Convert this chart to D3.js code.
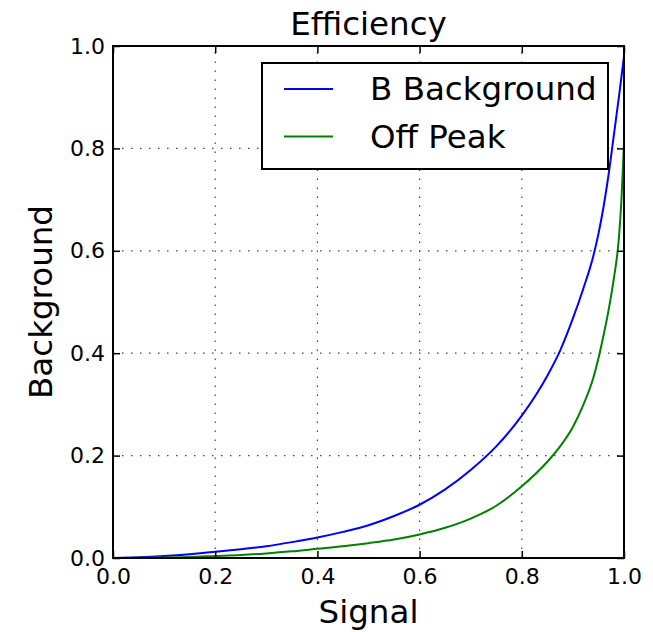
<!DOCTYPE html>
<html>
<head>
<meta charset="utf-8">
<script src="https://cdn.jsdelivr.net/npm/d3@7"></script>
<style>
  body { margin: 0; background: #fff; }
  text { font-family: "DejaVu Sans", sans-serif; fill: #000; }
</style>
</head>
<body>
<svg id="chart" width="653" height="632"></svg>
<script>
let width = 653;
let height = 632;

// signal efficiency grid
let signal = [0, 0.05, 0.1, 0.15, 0.2, 0.25, 0.3, 0.35, 0.4, 0.45, 0.5, 0.55, 0.6, 0.65,
  0.7, 0.75, 0.8, 0.85, 0.875, 0.9, 0.92, 0.94, 0.95, 0.96, 0.97, 0.98, 0.99, 0.995, 1];
// background efficiency, B background sample
let bBackground = [0, 0.0015, 0.004, 0.0075, 0.012, 0.017, 0.023, 0.031, 0.040, 0.051,
  0.064, 0.082, 0.104, 0.134, 0.172, 0.218, 0.278, 0.356, 0.405, 0.468, 0.525, 0.590,
  0.633, 0.686, 0.75, 0.825, 0.90, 0.94, 0.98];
// background efficiency, off peak sample
let offPeak = [0, 0.0003, 0.001, 0.002, 0.004, 0.006, 0.009, 0.013, 0.018, 0.023,
  0.029, 0.036, 0.046, 0.059, 0.077, 0.102, 0.140, 0.188, 0.218, 0.256, 0.298, 0.352,
  0.39, 0.435, 0.485, 0.545, 0.625, 0.70, 0.81];

let seriesNames = ["B Background", "Off Peak"];
let seriesColors = ["#0000ff", "#008000"];
let ticks = [0, 0.2, 0.4, 0.6, 0.8, 1.0];

let margin = { top: 46, right: 29, bottom: 74, left: 113 };

let svg = d3.select("#chart");

let x = d3.scaleLinear()
  .domain([0, 1])
  .range([margin.left, width - margin.right]);

let y = d3.scaleLinear()
  .domain([0, 1])
  .range([height - margin.bottom, margin.top]);

// dotted grid
let grid = svg.append("g")
  .attr("stroke", "#444")
  .attr("stroke-width", 1.2)
  .attr("stroke-dasharray", "1.5,7.5");

grid.selectAll(".vgrid")
  .data(ticks)
  .join("line")
  .attr("x1", d => x(d)).attr("x2", d => x(d))
  .attr("y1", y(0)).attr("y2", y(1));

grid.selectAll(".hgrid")
  .data(ticks)
  .join("line")
  .attr("class", "hgrid")
  .attr("y1", d => y(d)).attr("y2", d => y(d))
  .attr("x1", x(0)).attr("x2", x(1));

// curves
svg.append("clipPath")
  .attr("id", "clip")
  .append("rect")
  .attr("x", x(0)).attr("y", y(1))
  .attr("width", x(1) - x(0)).attr("height", y(0) - y(1));

let line = d3.line()
  .x(d => x(d[0]))
  .y(d => y(d[1]))
  .curve(d3.curveMonotoneX);

let series = [bBackground, offPeak].map(vals => signal.map((s, i) => [s, vals[i]]));

svg.append("g")
  .attr("clip-path", "url(#clip)")
  .selectAll("path")
  .data(series)
  .join("path")
  .attr("fill", "none")
  .attr("stroke", (d, i) => seriesColors[i])
  .attr("stroke-width", 2)
  .attr("d", line);

// axes with inward ticks on all four sides
let tickFont = "22px";

svg.append("g")
  .attr("transform", `translate(0,${y(0)})`)
  .call(d3.axisBottom(x).tickValues(ticks).tickSize(-7).tickPadding(10).tickFormat(d3.format(".1f")))
  .call(g => g.select(".domain").remove())
  .call(g => g.selectAll("text").style("font-size", tickFont).attr("font-family", null));

svg.append("g")
  .attr("transform", `translate(${x(0)},0)`)
  .call(d3.axisLeft(y).tickValues(ticks).tickSize(-7).tickPadding(8).tickFormat(d3.format(".1f")))
  .call(g => g.select(".domain").remove())
  .call(g => g.selectAll("text").style("font-size", tickFont).attr("font-family", null));

svg.append("g")
  .attr("transform", `translate(0,${y(1)})`)
  .call(d3.axisTop(x).tickValues(ticks).tickSize(-7).tickFormat(""))
  .call(g => g.select(".domain").remove());

svg.append("g")
  .attr("transform", `translate(${x(1)},0)`)
  .call(d3.axisRight(y).tickValues(ticks).tickSize(-7).tickFormat(""))
  .call(g => g.select(".domain").remove());

svg.selectAll(".tick line").attr("stroke", "#000").attr("stroke-width", 1.5);

// frame
svg.append("rect")
  .attr("x", x(0)).attr("y", y(1))
  .attr("width", x(1) - x(0)).attr("height", y(0) - y(1))
  .attr("fill", "none")
  .attr("stroke", "#000")
  .attr("stroke-width", 2);

// titles
let bigFont = "32.5px";

svg.append("text")
  .attr("x", (x(0) + x(1)) / 2)
  .attr("y", 35)
  .attr("text-anchor", "middle")
  .style("font-size", bigFont)
  .text("Efficiency");

svg.append("text")
  .attr("x", (x(0) + x(1)) / 2)
  .attr("y", 623)
  .attr("text-anchor", "middle")
  .style("font-size", bigFont)
  .text("Signal");

svg.append("text")
  .attr("transform", `translate(52,${(y(0) + y(1)) / 2}) rotate(-90)`)
  .attr("text-anchor", "middle")
  .style("font-size", bigFont)
  .text("Background");

// legend
let legend = svg.append("g").attr("transform", "translate(262,63)");

legend.append("rect")
  .attr("width", 346)
  .attr("height", 106)
  .attr("fill", "#fff")
  .attr("stroke", "#000")
  .attr("stroke-width", 2);

let items = legend.selectAll(".item")
  .data(seriesNames)
  .join("g")
  .attr("transform", (d, i) => `translate(0,${26 + i * 47.5})`);

items.append("line")
  .attr("x1", 22).attr("x2", 71)
  .attr("stroke", (d, i) => seriesColors[i])
  .attr("stroke-width", 2);

items.append("text")
  .attr("x", 108)
  .attr("y", 11)
  .style("font-size", bigFont)
  .text(d => d);
</script>
</body>
</html>
